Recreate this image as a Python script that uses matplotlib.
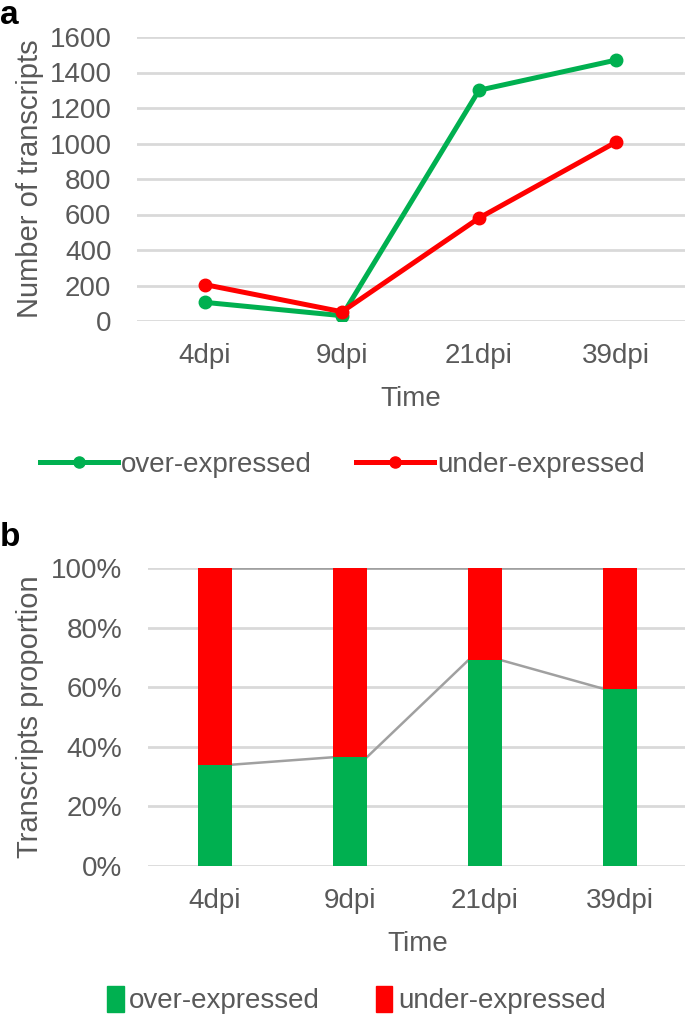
import matplotlib
matplotlib.use("Agg")
import matplotlib.pyplot as plt
from matplotlib.lines import Line2D
from matplotlib.patches import Patch

plt.rcParams['font.family'] = ['Liberation Sans', 'DejaVu Sans']

# ---- data ----
categories = ['4dpi', '9dpi', '21dpi', '39dpi']
over_counts = [105, 30, 1300, 1470]
under_counts = [205, 52, 580, 1008]
over_pct = [34.0, 36.5, 69.0, 59.5]
under_pct = [66.0, 63.5, 31.0, 40.5]
count_ticks = [0, 200, 400, 600, 800, 1000, 1200, 1400, 1600]
pct_ticks = [0, 20, 40, 60, 80, 100]

GREEN = '#00b050'
RED = '#ff0000'
TXT = '#595959'
GRID = '#d9d9d9'
SER = '#a0a0a0'
FS = 20

W, H = 685, 1027
fig = plt.figure(figsize=(W / 100, H / 100), dpi=100)

x = list(range(len(categories)))

# ---- panel a ----
ax1 = fig.add_axes([136.5 / W, 1 - 321 / H, 548 / W, 284 / H])
ax1.plot(x, over_counts, color=GREEN, lw=3.6, marker='o', ms=9, label='over-expressed',
         solid_capstyle='round', zorder=3)
ax1.plot(x, under_counts, color=RED, lw=3.6, marker='o', ms=9, label='under-expressed',
         solid_capstyle='round', zorder=3)
ax1.set_xlim(-0.5, 3.5)
ax1.set_ylim(0, 1600)
ax1.set_yticks(count_ticks)
ax1.set_xticks(x)
ax1.set_xticklabels(categories)

# ---- panel b ----
ax2 = fig.add_axes([147.5 / W, 1 - 866 / H, 540 / W, 298 / H])
bw = 0.25
ax2.bar(x, over_pct, width=bw, color=GREEN, label='over-expressed', zorder=3)
ax2.bar(x, under_pct, width=bw, bottom=over_pct, color=RED, label='under-expressed', zorder=3)
tops = [o + u for o, u in zip(over_pct, under_pct)]
for i in range(len(x) - 1):
    ax2.plot([x[i] + bw / 2, x[i + 1] - bw / 2], [over_pct[i], over_pct[i + 1]],
             color=SER, lw=1.8, zorder=2)
    ax2.plot([x[i] + bw / 2, x[i + 1] - bw / 2], [tops[i], tops[i + 1]],
             color=SER, lw=1.8, zorder=2)
ax2.set_xlim(-0.5, 3.5)
ax2.set_ylim(0, 100)
ax2.set_yticks(pct_ticks)
ax2.set_yticklabels([f'{t}%' for t in pct_ticks])
ax2.set_xticks(x)
ax2.set_xticklabels(categories)

for ax in [ax1, ax2]:
    for s in ax.spines.values():
        s.set_visible(False)
    ax.yaxis.grid(True, color=GRID, lw=2.0, zorder=0)
    ax.set_axisbelow(True)
    ax.tick_params(length=0, labelsize=FS, labelcolor=TXT)
    ax.tick_params(axis='x', pad=16)
    ax.tick_params(axis='y', pad=18)
    ax.set_xlabel('Time', fontsize=FS, color=TXT, labelpad=12)

ax1.set_ylabel('Number of transcripts', fontsize=21, color=TXT, labelpad=4)
ax2.set_ylabel('Transcripts proportion', fontsize=21, color=TXT, labelpad=5)

# legends
h1 = [Line2D([0], [0], color=GREEN, lw=3.6, marker='o', ms=8),
      Line2D([0], [0], color=RED, lw=3.6, marker='o', ms=8)]
fig.legend(h1, ['over-expressed', 'under-expressed'], loc='center',
           bbox_to_anchor=(0.5, 1 - 465 / H), ncol=2, frameon=False, fontsize=FS,
           labelcolor=TXT, handlelength=2.8, handletextpad=0.1, columnspacing=1.6)
h2 = [Patch(color=GREEN), Patch(color=RED)]
fig.legend(h2, ['over-expressed', 'under-expressed'], loc='center',
           bbox_to_anchor=(0.52, 1 - 1000 / H), ncol=2, frameon=False, fontsize=FS,
           labelcolor=TXT, handlelength=0.6, handleheight=1.1, handletextpad=0.2,
           columnspacing=2.0)

fig.text(0.0, 1.0, 'a', fontsize=24, fontweight='bold', va='top', ha='left')
fig.text(0.0, 1 - 522 / H, 'b', fontsize=24, fontweight='bold', va='top', ha='left')

fig.savefig('out.png', dpi=100)
